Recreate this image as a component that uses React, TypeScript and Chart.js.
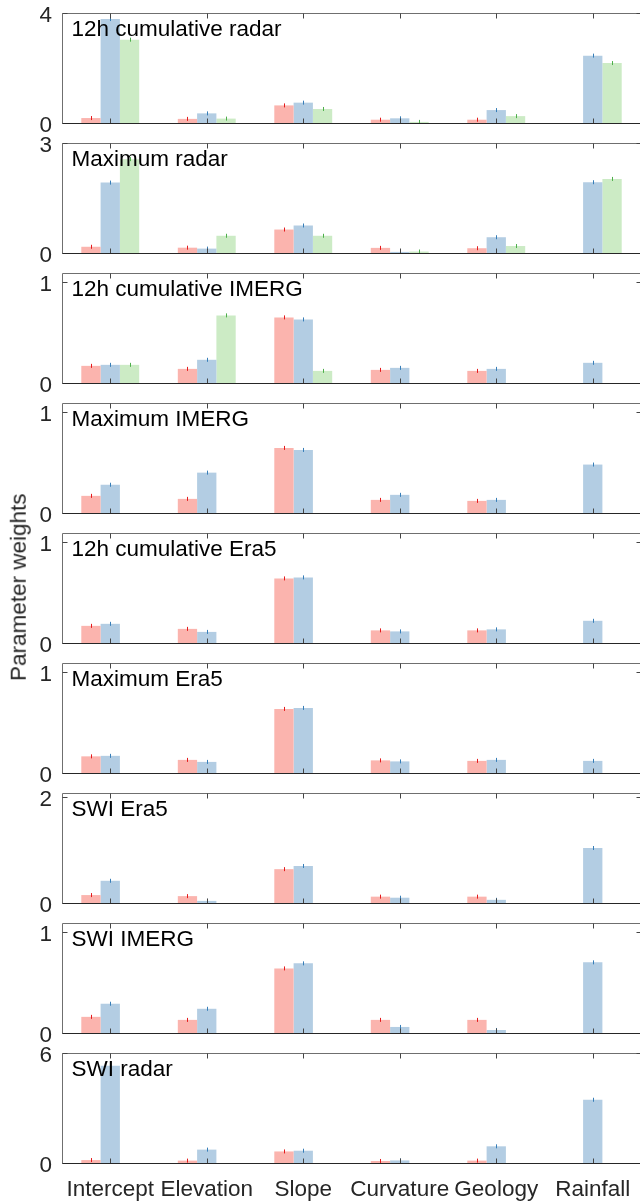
import React, { useEffect, useRef } from "react";
import { Chart, registerables } from "chart.js";

Chart.register(...registerables);

// ---------------- data ----------------
const categories = ["Intercept", "Elevation", "Slope", "Curvature", "Geology", "Rainfall"];

const panelTitles = [
  "12h cumulative radar",
  "Maximum radar",
  "12h cumulative IMERG",
  "Maximum IMERG",
  "12h cumulative Era5",
  "Maximum Era5",
  "SWI Era5",
  "SWI IMERG",
  "SWI radar",
];

const yAxisMax = [4, 3, 1.09, 1.09, 1.09, 1.09, 2.08, 1.09, 6];
const yTickTop = [4, 3, 1, 1, 1, 1, 2, 1, 6];

const redSeries: (number | null)[][] = [
  [0.18, 0.15, 0.64, 0.12, 0.12, null],
  [0.17, 0.145, 0.64, 0.14, 0.13, null],
  [0.17, 0.14, 0.65, 0.13, 0.12, null],
  [0.17, 0.14, 0.645, 0.13, 0.12, null],
  [0.17, 0.14, 0.64, 0.125, 0.125, null],
  [0.165, 0.13, 0.635, 0.125, 0.12, null],
  [0.15, 0.13, 0.64, 0.12, 0.12, null],
  [0.16, 0.13, 0.64, 0.13, 0.13, null],
  [0.16, 0.13, 0.63, 0.11, 0.13, null],
];

const blueSeries: (number | null)[][] = [
  [3.78, 0.35, 0.74, 0.17, 0.47, 2.45],
  [1.92, 0.12, 0.75, 0.03, 0.43, 1.93],
  [0.18, 0.23, 0.63, 0.15, 0.14, 0.2],
  [0.28, 0.4, 0.625, 0.18, 0.13, 0.48],
  [0.19, 0.11, 0.65, 0.115, 0.135, 0.22],
  [0.17, 0.11, 0.645, 0.115, 0.13, 0.12],
  [0.42, 0.04, 0.7, 0.1, 0.06, 1.04],
  [0.29, 0.24, 0.69, 0.06, 0.03, 0.7],
  [5.31, 0.73, 0.67, 0.14, 0.91, 3.45],
];

const greenSeries: (number | null)[][] = [
  [3.03, 0.16, 0.51, 0.04, 0.25, 2.18],
  [2.56, 0.47, 0.47, 0.04, 0.19, 2.02],
  [0.18, 0.67, 0.12, null, null, null],
  [null, null, null, null, null, null],
  [null, null, null, null, null, null],
  [null, null, null, null, null, null],
  [null, null, null, null, null, null],
  [null, null, null, null, null, null],
  [null, null, null, null, null, null],
];

const yAxisLabel = "Parameter weights";

// ---------------- styles ----------------
const FONT = '"Liberation Sans", Arial, Helvetica, sans-serif';
const FONT_SIZE = 22.5;
const barFill = ["#FBB4AE", "#B3CDE3", "#CCEBC5"];
const errColor = ["#E41A1C", "#377EB8", "#4DAF4A"];
const PANEL_STEP = 130;
const PANEL_H = 142;
const PANEL_PAD_BOTTOM = 19;
const LAST_H = 161;
const CANVAS_W = 644;
const ERR_HALF = 2;

const matlabPlugin = {
  id: "matlabFrame",
  afterDatasetsDraw(chart: any) {
    const ctx = chart.ctx;
    ctx.save();
    ctx.lineWidth = 1;
    chart.data.datasets.forEach((ds: any, di: number) => {
      const meta = chart.getDatasetMeta(di);
      meta.data.forEach((bar: any, i: number) => {
        if (ds.data[i] == null) return;
        const x = Math.round(bar.x) + 0.5;
        ctx.strokeStyle = errColor[di];
        ctx.beginPath();
        ctx.moveTo(x, bar.y - ERR_HALF);
        ctx.lineTo(x, bar.y + ERR_HALF);
        ctx.stroke();
      });
    });
    ctx.restore();
  },
  afterDraw(chart: any) {
    const ctx = chart.ctx;
    const { left, right, top, bottom } = chart.chartArea;
    const xs = chart.scales.x;
    const ys = chart.scales.y;
    const t = Math.round(top) + 0.5;
    const b = Math.round(bottom) + 0.5;
    const l = Math.round(left) + 0.5;
    const r = Math.round(right) + 0.5;
    const tick = 5;
    ctx.save();
    ctx.lineWidth = 1;
    ctx.strokeStyle = "#6f6f6f";
    ctx.beginPath();
    ctx.moveTo(l, b);
    ctx.lineTo(l, t);
    ctx.lineTo(r, t);
    ctx.lineTo(r, b);
    ctx.stroke();
    ctx.strokeStyle = "#444444";
    ctx.beginPath();
    categories.forEach((_, i) => {
      const px = Math.round(xs.getPixelForValue(i)) + 0.5;
      ctx.moveTo(px, t);
      ctx.lineTo(px, t + tick);
      ctx.moveTo(px, b);
      ctx.lineTo(px, b - tick);
    });
    ys.ticks.forEach((tk: any) => {
      const py = Math.round(ys.getPixelForValue(tk.value)) + 0.5;
      ctx.moveTo(l, py);
      ctx.lineTo(l + tick, py);
      ctx.moveTo(r, py);
      ctx.lineTo(r - tick, py);
    });
    ctx.stroke();
    ctx.strokeStyle = "#262626";
    ctx.beginPath();
    ctx.moveTo(l, b);
    ctx.lineTo(r, b);
    ctx.stroke();
    ctx.restore();
  },
};

export default function App() {
  const refs = useRef<(HTMLCanvasElement | null)[]>([]);

  useEffect(() => {
    const charts = panelTitles.map((_, p) => {
      const canvas = refs.current[p] as HTMLCanvasElement;
      const isLast = p === panelTitles.length - 1;
      const series = [redSeries[p], blueSeries[p], greenSeries[p]];
      return new Chart(canvas, {
        type: "bar",
        data: {
          labels: categories,
          datasets: series.map((d, i) => ({
            data: d,
            backgroundColor: barFill[i],
            borderWidth: 0,
            categoryPercentage: 0.6,
            barPercentage: 1.0,
          })),
        },
        options: {
          responsive: false,
          animation: false,
          devicePixelRatio: 1,
          events: [],
          layout: { padding: { top: 13, bottom: isLast ? 0 : PANEL_PAD_BOTTOM, left: 0, right: 3 } },
          plugins: { legend: { display: false }, tooltip: { enabled: false }, title: { display: false } },
          scales: {
            x: {
              type: "category",
              offset: true,
              display: isLast,
              grid: { display: false, drawTicks: false },
              border: { display: false },
              ticks: {
                display: isLast,
                autoSkip: false,
                maxRotation: 0,
                minRotation: 0,
                padding: 13,
                color: "#262626",
                font: { family: FONT, size: FONT_SIZE },
              },
              afterFit: (s: any) => {
                s.height = isLast ? 38 : 0;
                s.paddingLeft = 0;
                s.paddingRight = 0;
              },
            },
            y: {
              min: 0,
              max: yAxisMax[p],
              grid: { display: false, drawTicks: false },
              border: { display: false },
              ticks: {
                padding: 10,
                labelOffset: 2.5,
                color: "#262626",
                font: { family: FONT, size: FONT_SIZE },
                callback: (v: any) => String(v),
              },
              afterBuildTicks: (s: any) => {
                s.ticks = [{ value: 0 }, { value: yTickTop[p] }];
              },
              afterFit: (s: any) => {
                s.width = 62;
                s.paddingTop = 0;
                s.paddingBottom = 0;
              },
            },
          },
        },
        plugins: [matlabPlugin],
      } as any);
    });
    return () => charts.forEach((c) => c.destroy());
  }, []);

  return (
    <div
      style={{
        position: "absolute",
        left: 0,
        top: 0,
        width: 640,
        height: 1201,
        overflow: "hidden",
        background: "#ffffff",
      }}
    >
      {panelTitles.map((title, p) => {
        const isLast = p === panelTitles.length - 1;
        const h = isLast ? LAST_H : PANEL_H;
        return (
          <canvas
            key={"c" + p}
            ref={(el) => {
              refs.current[p] = el;
            }}
            width={CANVAS_W}
            height={h}
            style={{ position: "absolute", left: 0, top: p * PANEL_STEP, width: CANVAS_W, height: h }}
          />
        );
      })}
      {panelTitles.map((title, p) => (
        <div
          key={"t" + p}
          style={{
            position: "absolute",
            left: 71.5,
            top: 18.1 + p * PANEL_STEP,
            fontFamily: FONT,
            fontSize: FONT_SIZE,
            lineHeight: FONT_SIZE + "px",
            color: "#000000",
            whiteSpace: "nowrap",
          }}
        >
          {title}
        </div>
      ))}
      <div
        style={{
          position: "absolute",
          left: 19 - 150,
          top: 587 - FONT_SIZE / 2,
          width: 300,
          height: FONT_SIZE,
          lineHeight: FONT_SIZE + "px",
          textAlign: "center",
          transform: "rotate(-90deg)",
          fontFamily: FONT,
          fontSize: FONT_SIZE,
          color: "#262626",
          whiteSpace: "nowrap",
        }}
      >
        {yAxisLabel}
      </div>
    </div>
  );
}
